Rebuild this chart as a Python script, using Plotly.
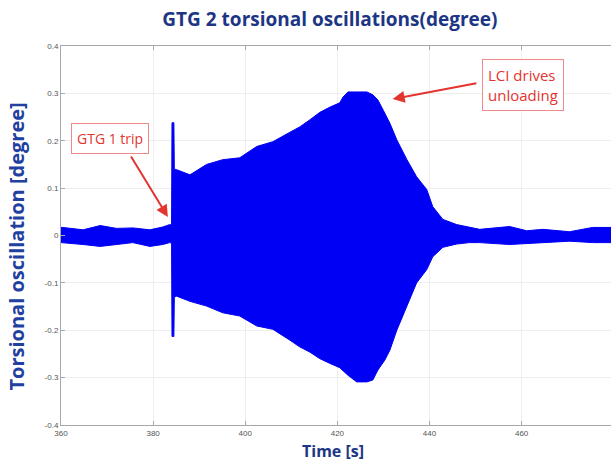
import plotly.graph_objects as go

# Envelope of the torsional oscillation signal
time_s = [360.0, 360.4, 364.8, 368.5, 372.1, 375.6, 379.3, 382.1, 383.6, 384.0,
          384.1, 384.5, 384.6, 385.1, 388.0, 391.6, 395.1, 398.8, 402.5, 406.0,
          409.7, 411.8, 414.0, 416.2, 418.4, 420.5, 421.2, 422.3, 424.2, 426.4,
          427.7, 428.8, 430.3, 431.4, 432.9, 435.1, 437.2, 439.4, 440.7, 442.9,
          445.9, 448.7, 450.9, 457.4, 461.1, 464.6, 470.4, 475.4, 479.4]
upper_env = [0.017, 0.017, 0.012, 0.021, 0.015, 0.016, 0.012, 0.018, 0.023, 0.022,
             0.238, 0.238, 0.140, 0.139, 0.128, 0.150, 0.160, 0.164, 0.188, 0.198,
             0.218, 0.229, 0.244, 0.260, 0.271, 0.280, 0.292, 0.303, 0.303, 0.303,
             0.297, 0.286, 0.258, 0.237, 0.202, 0.160, 0.124, 0.097, 0.061, 0.034,
             0.023, 0.017, 0.013, 0.019, 0.010, 0.013, 0.008, 0.017, 0.017]
lower_env = [-0.015, -0.015, -0.019, -0.023, -0.019, -0.015, -0.023, -0.019, -0.015, -0.016,
             -0.213, -0.213, -0.130, -0.128, -0.139, -0.149, -0.163, -0.170, -0.191, -0.198,
             -0.221, -0.235, -0.246, -0.260, -0.270, -0.279, -0.285, -0.295, -0.309, -0.309,
             -0.305, -0.284, -0.263, -0.242, -0.200, -0.149, -0.100, -0.072, -0.045, -0.025,
             -0.018, -0.015, -0.015, -0.019, -0.016, -0.015, -0.012, -0.015, -0.015]

x_ticks = [360, 380, 400, 420, 440, 460, 480]
y_ticks = [-0.4, -0.3, -0.2, -0.1, 0, 0.1, 0.2, 0.3, 0.4]
y_tick_text = ["-0.4", "-0.3", "-0.2", "-0.1", "0", "0.1", "0.2", "0.3", "0.4"]

BLUE = "#0000f5"
RED = "#e3342f"

fig = go.Figure()
fig.add_trace(go.Scatter(
    x=time_s + time_s[::-1],
    y=upper_env + lower_env[::-1],
    fill="toself", fillcolor=BLUE,
    line=dict(color=BLUE, width=1),
    mode="lines", hoverinfo="skip", showlegend=False,
))

axis_common = dict(
    showline=True, linecolor="#a8a8a8", linewidth=1,
    ticks="inside", ticklen=4, tickcolor="#a8a8a8",
    showgrid=True, gridcolor="#eeeeee", gridwidth=1,
    zeroline=False,
    tickfont=dict(family="Liberation Sans", size=8, color="#555555"),
)

fig.update_xaxes(range=[360, 479.4], tickvals=x_ticks, mirror="ticks", **axis_common)
fig.update_yaxes(range=[-0.4, 0.4], tickvals=y_ticks, ticktext=y_tick_text, mirror=False,
                 **axis_common)

fig.update_layout(
    width=611, height=465,
    margin=dict(l=61, r=0, t=46, b=40),
    paper_bgcolor="white", plot_bgcolor="white",
    title=dict(text="<b>GTG 2 torsional oscillations(degree)</b>",
               x=0.54, xanchor="center", y=1 - 19 / 465, yanchor="middle",
               yref="container",
               font=dict(family="Open Sans", size=19, color="#1d3585")),
)

annotations = [
    dict(text="<b>Torsional oscillation [degree]</b>", xref="paper", yref="paper",
         x=-0.081, y=0.472, xanchor="center", yanchor="middle",
         textangle=-90, showarrow=False,
         font=dict(family="Open Sans", size=20, color="#2140a0")),
    dict(text="<b>Time [s]</b>", xref="paper", yref="paper",
         x=0.4945, y=-0.069, xanchor="center", yanchor="middle", showarrow=False,
         font=dict(family="Open Sans", size=16, color="#1d3585")),
    # label boxes
    dict(text="GTG 1 trip", x=370.6, y=0.204, xref="x", yref="y", showarrow=False,
         bgcolor="white", bordercolor="#f08a8a", borderwidth=1, borderpad=5,
         font=dict(family="Open Sans", size=14, color=RED)),
    dict(text="LCI drives<br>unloading", x=460.4, y=0.318, xref="x", yref="y",
         showarrow=False, align="left",
         bgcolor="white", bordercolor="#f08a8a", borderwidth=1, borderpad=5,
         font=dict(family="Open Sans", size=15, color=RED)),
    # arrows
    dict(text="", x=383.2, y=0.039, ax=375.0, ay=0.170, xref="x", yref="y",
         axref="x", ayref="y", showarrow=True, arrowhead=2, arrowsize=1.2,
         arrowwidth=2, arrowcolor=RED),
    dict(text="", x=432.0, y=0.288, ax=450.5, ay=0.322, xref="x", yref="y",
         axref="x", ayref="y", showarrow=True, arrowhead=2, arrowsize=1.2,
         arrowwidth=2, arrowcolor=RED),
]
fig.update_layout(annotations=annotations)

fig.write_html("out.html")
